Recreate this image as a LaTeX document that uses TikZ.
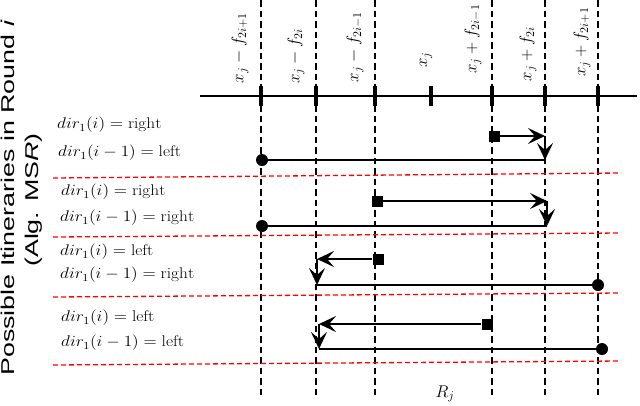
\RequirePackage{fix-cm}
\documentclass[tikz,border=0pt]{standalone}
\usepackage{fontspec}
\newfontfamily\titlefont{Liberation Sans}
\usetikzlibrary{arrows.meta}
\begin{document}
\begin{tikzpicture}[x=1pt,y=-1pt,
  guide/.style={black, line width=1.8pt, dash pattern=on 6.5pt off 4pt},
  redsep/.style={red, line width=1.3pt, dash pattern=on 5pt off 3pt},
  axisline/.style={line width=2.6pt},
  tickmark/.style={line width=3.6pt},
  conn/.style={line width=2.4pt},
  arr/.style={conn, -{Stealth[length=17pt,width=16pt,inset=7pt]}},
  sq/.style={fill, rectangle, minimum size=11pt, inner sep=0pt},
  dot/.style={fill, circle, minimum size=12pt, inner sep=0pt},
  axlab/.style={rotate=90, inner sep=0pt, font=\fontsize{17}{19}\selectfont},
  dirlab/.style={anchor=west, inner sep=0pt, font=\fontsize{15.5}{18}\selectfont},
  titlelab/.style={rotate=90, inner sep=0pt, font=\titlefont\fontsize{18.5}{20}\selectfont},
]
\useasboundingbox (0,0) rectangle (640,405);

% vertical guides
\foreach \x in {261,316,375,492,545,598} {
  \draw[guide] (\x,0) -- (\x,395);
}

% axis
\coordinate (axL) at (200,96);
\coordinate (axR) at (637,96);
\draw[axisline] (axL) -- (axR);
\foreach \x in {261,316,375,431,492,545,598} {
  \draw[tickmark] (\x,86) -- (\x,106);
}

% axis labels
\node[axlab] (l1) at (240,48) {$x_j - f_{2i+1}$};
\node[axlab] (l2) at (296,56) {$x_j - f_{2i}$};
\node[axlab] (l3) at (355,47) {$x_j - f_{2i-1}$};
\node[axlab] (l4) at (426,60) {$x_j$};
\node[axlab] (l5) at (473,39) {$x_j + f_{2i-1}$};
\node[axlab] (l6) at (528,54) {$x_j + f_{2i}$};
\node[axlab] (l7) at (582,42) {$x_j + f_{2i+1}$};

% red separators
\draw[redsep] (53,178) -- (621,173);
\draw[redsep] (53,237) -- (621,233);
\draw[redsep] (53,297) -- (621,293);
\draw[redsep] (53,365) -- (621,361);

% title
\node[titlelab] (title1) at (8,198) {\scalebox{1.45}[1]{Possible Itineraries in Round \textit{i}}};
\node[titlelab] (title2) at (34,200) {\scalebox{1.45}[1]{(Alg. MS\textit{R})}};

% direction labels
\node[dirlab] (d1a) at (57,125) {\scalebox{1.12}[1]{$dir_1(i) = \mathrm{right}$}};
\node[dirlab] (d1b) at (58,153) {\scalebox{1.12}[1]{$dir_1(i-1) = \mathrm{left}$}};
\node[dirlab] (d2a) at (61,192) {\scalebox{1.12}[1]{$dir_1(i) = \mathrm{right}$}};
\node[dirlab] (d2b) at (60,218) {\scalebox{1.12}[1]{$dir_1(i-1) = \mathrm{right}$}};
\node[dirlab] (d3a) at (60,252) {\scalebox{1.12}[1]{$dir_1(i) = \mathrm{left}$}};
\node[dirlab] (d3b) at (60,275) {\scalebox{1.12}[1]{$dir_1(i-1) = \mathrm{right}$}};
\node[dirlab] (d4a) at (61,318) {\scalebox{1.12}[1]{$dir_1(i) = \mathrm{left}$}};
\node[dirlab] (d4b) at (61,343) {\scalebox{1.12}[1]{$dir_1(i-1) = \mathrm{left}$}};

% row 1
\node[sq] (s1) at (494,136) {};
\node[dot] (o1) at (262,160) {};
\coordinate (c1a) at (545,136);
\coordinate (c1b) at (545,160);
\draw[conn] (o1) -- (c1b);
\draw[arr] (s1) -- (c1a);
\draw[arr] (c1a) -- (c1b);

% row 2
\node[sq] (s2) at (377,201) {};
\node[dot] (o2) at (262,226) {};
\coordinate (c2a) at (547,201);
\coordinate (c2b) at (547,226);
\draw[conn] (o2) -- (c2b);
\draw[arr] (s2) -- (c2a);
\draw[arr] (c2a) -- (c2b);

% row 3
\node[sq] (s3) at (378,259) {};
\node[dot] (o3) at (598,285) {};
\coordinate (c3a) at (317,259);
\coordinate (c3b) at (317,285);
\draw[conn] (o3) -- (c3b);
\draw[arr] (s3) -- (c3a);
\draw[arr] (c3a) -- (c3b);

% row 4
\node[sq] (s4) at (487,324) {};
\node[dot] (o4) at (602,349) {};
\coordinate (c4a) at (319,324);
\coordinate (c4b) at (319,349);
\draw[conn] (o4) -- (c4b);
\draw[arr] (s4) -- (c4a);
\draw[arr] (c4a) -- (c4b);

% bottom label
\node[inner sep=0pt, font=\fontsize{17}{19}\selectfont] (rj) at (445,394) {$R_j$};
\end{tikzpicture}
\end{document}
